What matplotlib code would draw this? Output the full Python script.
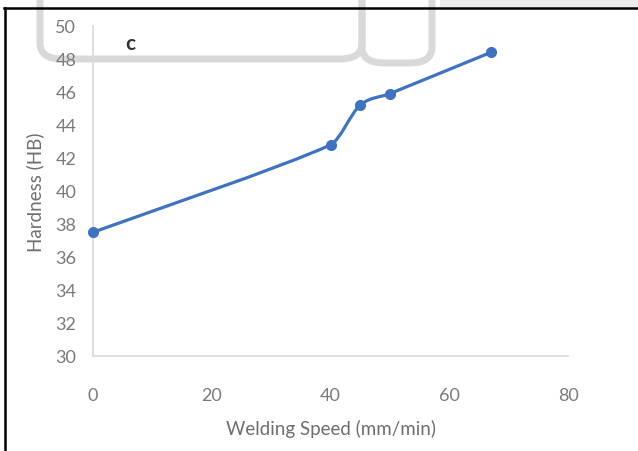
import matplotlib
matplotlib.use("Agg")
import matplotlib.pyplot as plt
from matplotlib.path import Path
from matplotlib.patches import PathPatch, FancyBboxPatch, Rectangle
from matplotlib.lines import Line2D
import numpy as np

# welding speed vs hardness
speed = [0, 40, 45, 50, 67]
hardness = [37.5, 42.8, 45.2, 45.9, 48.4]
x_ticks = [0, 20, 40, 60, 80]
y_ticks = [30, 32, 34, 36, 38, 40, 42, 44, 46, 48, 50]

W, H = 638, 452
plt.rcParams['font.family'] = ['Lato', 'DejaVu Sans']

fig = plt.figure(figsize=(W / 100, H / 100), dpi=100)
fig.patch.set_facecolor("white")


def fx(px):
    return px / W


def fy(py):
    return 1 - py / H


# grey strip and rounded outlines overlapping the top of the panel
fig.add_artist(Rectangle((fx(440), fy(8)), fx(198), 8 / H, transform=fig.transFigure,
                         facecolor="#ececec", edgecolor="none", zorder=-2))
for x0, x1, y1 in [(40, 362, 60), (362, 432, 64)]:
    fig.add_artist(FancyBboxPatch((fx(x0), fy(y1)), fx(x1 - x0), (y1 + 40) / H,
                                  boxstyle="round,pad=0,rounding_size=0.035",
                                  transform=fig.transFigure, facecolor="none",
                                  edgecolor="#d9d9d9", linewidth=5, zorder=-1))

ax = fig.add_axes([fx(93), fy(357), fx(475), 330 / H])
ax.patch.set_alpha(0)

# smoothed line: Bezier segments, tangent along neighbour chord,
# handle length = smaller of catmull-rom and hermite lengths
pts = np.column_stack([speed, hardness]).astype(float)
n = len(pts)
verts = [pts[0]]
codes = [Path.MOVETO]


def handle(i, dx):
    a = pts[max(i - 1, 0)]
    b = pts[min(i + 1, n - 1)]
    chord = b - a
    scale = min(1 / 6, dx / (3 * chord[0]))
    return chord * scale


for i in range(n - 1):
    dx = pts[i + 1][0] - pts[i][0]
    verts += [pts[i] + handle(i, dx), pts[i + 1] - handle(i + 1, dx), pts[i + 1]]
    codes += [Path.CURVE4] * 3
ax.add_patch(PathPatch(Path(verts, codes), facecolor="none", edgecolor="#3f72bf",
                       linewidth=2.3, zorder=3, capstyle="round"))
ax.plot(speed, hardness, linestyle="none", marker="o", markersize=7,
        color="#3f72bf", zorder=4, clip_on=False)

ax.set_xlim(0, 80)
ax.set_ylim(30, 50)
ax.set_xticks(x_ticks)
ax.set_yticks(y_ticks)
ax.tick_params(length=0, labelsize=13, colors="#7a7a7a")
ax.tick_params(axis="x", pad=22)
ax.tick_params(axis="y", pad=12)
for s in ["top", "right"]:
    ax.spines[s].set_visible(False)
for s in ["left", "bottom"]:
    ax.spines[s].set_color("#d9d9d9")
    ax.spines[s].set_linewidth(1.2)

ax.set_xlabel("Welding Speed (mm/min)", fontsize=13.5, color="#6e6e6e", labelpad=12)
ax.set_ylabel("Hardness (HB)", fontsize=13.5, color="#6e6e6e", labelpad=8)

fig.text(fx(130), fy(44), "c", fontsize=15, fontweight="bold", color="#333333",
         ha="center", va="center")

# black frame on left and top
fig.add_artist(Line2D([fx(5), fx(5)], [0, fy(9)], transform=fig.transFigure,
                      color="black", linewidth=1.8))
fig.add_artist(Line2D([fx(4), 1], [fy(9), fy(9)], transform=fig.transFigure,
                      color="black", linewidth=1.8))

fig.savefig("out.png", dpi=100)
